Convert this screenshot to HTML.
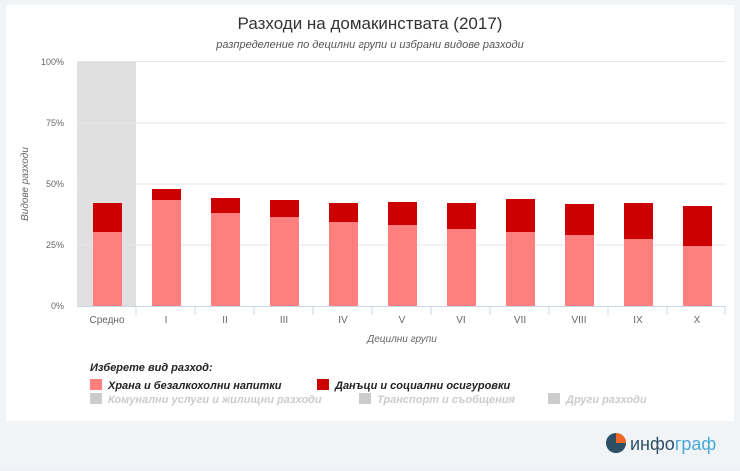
<!DOCTYPE html>
<html><head><meta charset="utf-8"><style>
body{margin:0;width:740px;height:466px;background:#eef2f6;overflow:hidden;font-family:"Liberation Sans",sans-serif}
</style></head><body>
<svg width="740" height="466" xmlns="http://www.w3.org/2000/svg" font-family="Liberation Sans, sans-serif">
<rect x="0" y="0" width="740" height="466" fill="#f1f4f7"/>
<rect x="6" y="5" width="728" height="416" fill="#fff"/>
<text x="370" y="29" text-anchor="middle" font-size="17" fill="#333">Разходи на домакинствата (2017)</text>
<text x="370" y="48" text-anchor="middle" font-size="11" font-style="italic" fill="#555">разпределение по децилни групи и избрани видове разходи</text>
<rect x="77" y="61" width="59" height="245" fill="#e0e0e0"/>
<g stroke="#e6e6e6" stroke-width="1">
<line x1="77" y1="61.5" x2="725" y2="61.5"/><line x1="77" y1="123" x2="725" y2="123"/>
<line x1="77" y1="184" x2="725" y2="184"/><line x1="77" y1="245" x2="725" y2="245"/>
</g>
<line x1="77" y1="306.5" x2="725" y2="306.5" stroke="#ccd6eb"/>
<g font-size="9" fill="#666" text-anchor="end">
<text x="64" y="65">100%</text><text x="64" y="126">75%</text><text x="64" y="187">50%</text><text x="64" y="248">25%</text><text x="64" y="309">0%</text>
</g>
<text transform="translate(28,184) rotate(-90)" text-anchor="middle" font-size="10" fill="#666" font-style="italic">Видове разходи</text>
<g id="bars"></g>
<g stroke="#ccd6eb">
<line x1="136" y1="306" x2="136" y2="315"/><line x1="195" y1="306" x2="195" y2="315"/><line x1="254" y1="306" x2="254" y2="315"/><line x1="313" y1="306" x2="313" y2="315"/><line x1="372" y1="306" x2="372" y2="315"/><line x1="431" y1="306" x2="431" y2="315"/><line x1="490" y1="306" x2="490" y2="315"/><line x1="549" y1="306" x2="549" y2="315"/><line x1="608" y1="306" x2="608" y2="315"/><line x1="667" y1="306" x2="667" y2="315"/><line x1="725" y1="306" x2="725" y2="315"/>
</g>
<!-- bars: x center, food top, total top -->
<g>
<rect x="93" y="203" width="29" height="29" fill="#cc0000"/><rect x="93" y="232" width="29" height="74" fill="#ff7f7f"/>
<rect x="152" y="189" width="29" height="11" fill="#cc0000"/><rect x="152" y="200" width="29" height="106" fill="#ff7f7f"/>
<rect x="211" y="198" width="29" height="15" fill="#cc0000"/><rect x="211" y="213" width="29" height="93" fill="#ff7f7f"/>
<rect x="270" y="200" width="29" height="17" fill="#cc0000"/><rect x="270" y="217" width="29" height="89" fill="#ff7f7f"/>
<rect x="329" y="203" width="29" height="19" fill="#cc0000"/><rect x="329" y="222" width="29" height="84" fill="#ff7f7f"/>
<rect x="388" y="202" width="29" height="23" fill="#cc0000"/><rect x="388" y="225" width="29" height="81" fill="#ff7f7f"/>
<rect x="447" y="203" width="29" height="26" fill="#cc0000"/><rect x="447" y="229" width="29" height="77" fill="#ff7f7f"/>
<rect x="506" y="199" width="29" height="33" fill="#cc0000"/><rect x="506" y="232" width="29" height="74" fill="#ff7f7f"/>
<rect x="565" y="204" width="29" height="31" fill="#cc0000"/><rect x="565" y="235" width="29" height="71" fill="#ff7f7f"/>
<rect x="624" y="203" width="29" height="36" fill="#cc0000"/><rect x="624" y="239" width="29" height="67" fill="#ff7f7f"/>
<rect x="683" y="206" width="29" height="40" fill="#cc0000"/><rect x="683" y="246" width="29" height="60" fill="#ff7f7f"/>
</g>
<g font-size="10" fill="#666" text-anchor="middle">
<text x="107" y="323">Средно</text><text x="166" y="323">I</text><text x="225" y="323">II</text><text x="284" y="323">III</text><text x="343" y="323">IV</text><text x="402" y="323">V</text><text x="461" y="323">VI</text><text x="520" y="323">VII</text><text x="579" y="323">VIII</text><text x="638" y="323">IX</text><text x="697" y="323">X</text>
</g>
<text x="402" y="342" text-anchor="middle" font-size="10" fill="#666" font-style="italic">Децилни групи</text>
<text x="90" y="371" font-size="11" font-weight="bold" font-style="italic" fill="#222">Изберете вид разход:</text>
<rect x="90" y="379" width="12" height="11" fill="#ff7f7f"/>
<text x="108" y="389" font-size="11" font-weight="bold" font-style="italic" fill="#222">Храна и безалкохолни напитки</text>
<rect x="317" y="379" width="12" height="11" fill="#cc0000"/>
<text x="335" y="389" font-size="11" font-weight="bold" font-style="italic" fill="#222">Данъци и социални осигуровки</text>
<rect x="90" y="393" width="12" height="11" fill="#ccc"/>
<text x="108" y="403" font-size="11" font-weight="bold" font-style="italic" fill="#ccc">Комунални услуги и жилищни разходи</text>
<rect x="359" y="393" width="12" height="11" fill="#ccc"/>
<text x="377" y="403" font-size="11" font-weight="bold" font-style="italic" fill="#ccc">Транспорт и съобщения</text>
<rect x="548" y="393" width="12" height="11" fill="#ccc"/>
<text x="566" y="403" font-size="11" font-weight="bold" font-style="italic" fill="#ccc">Други разходи</text>
<circle cx="616" cy="443" r="10" fill="#2c4f66"/>
<path d="M616 433 A10 10 0 0 1 626 443 L616 443 Z" fill="#f26522"/>
<text x="630" y="450" font-size="18" fill="#2c4f66">инфо<tspan fill="#4aa8d8">граф</tspan></text>
</svg>
</body></html>
